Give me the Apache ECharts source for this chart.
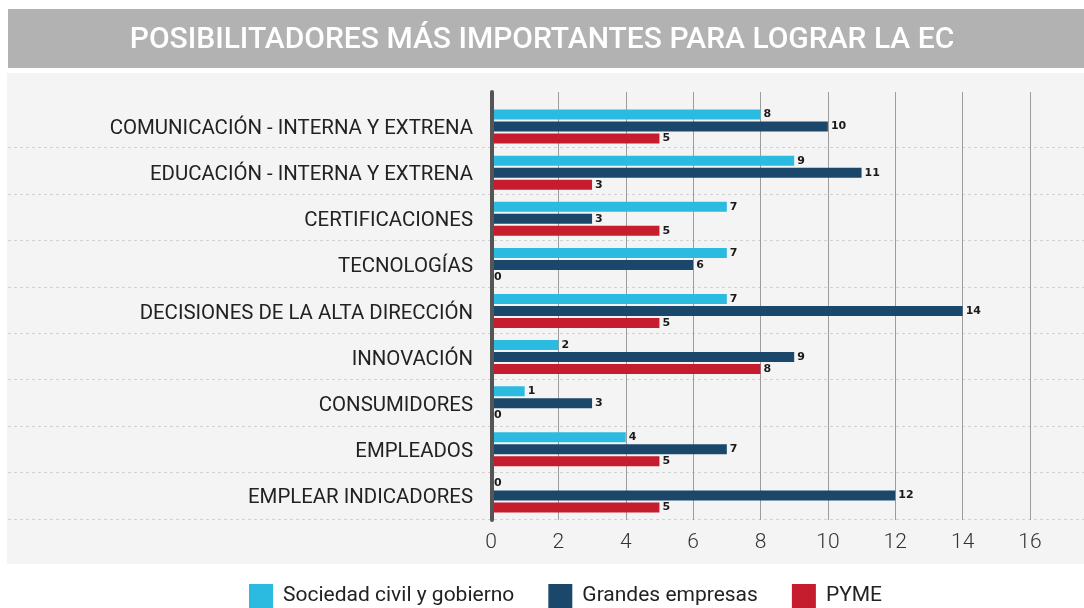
<!DOCTYPE html>
<html>
<head>
<meta charset="utf-8">
<script src="https://cdn.jsdelivr.net/npm/echarts@6/dist/echarts.min.js"></script>
<style>
html,body{margin:0;padding:0;background:#fff;}
#c{width:1084px;height:608px;}
</style>
</head>
<body>
<div id="c"></div>
<script>
const titleText = 'POSIBILITADORES MÁS IMPORTANTES PARA LOGRAR LA EC';
const categories = [
  'COMUNICACIÓN - INTERNA Y EXTRENA',
  'EDUCACIÓN - INTERNA Y EXTRENA',
  'CERTIFICACIONES',
  'TECNOLOGÍAS',
  'DECISIONES DE LA ALTA DIRECCIÓN',
  'INNOVACIÓN',
  'CONSUMIDORES',
  'EMPLEADOS',
  'EMPLEAR INDICADORES'
];
const seriesNames = ['Sociedad civil y gobierno', 'Grandes empresas', 'PYME'];
const sociedad = [8, 9, 7, 7, 7, 2, 1, 4, 0];
const grandes = [10, 11, 3, 6, 14, 9, 3, 7, 12];
const pyme = [5, 3, 5, 0, 5, 8, 0, 5, 5];
const xMin = 0, xMax = 16, xStep = 2;

const colors = ['#2cbbe0', '#1b486a', '#c51d2e'];
const chart = echarts.init(document.getElementById('c'), null, {renderer: 'canvas'});

function barSeries(name, data, color) {
  return {
    name: name, type: 'bar', data: data, xAxisIndex: 0, yAxisIndex: 0,
    barWidth: 10, barGap: '20%',
    itemStyle: {color: color},
    label: {show: true, position: 'right', distance: 3,
      fontFamily: 'DejaVu Sans', fontWeight: 'bold', fontSize: 11, color: '#1a1a1a'},
    z: 5
  };
}

chart.setOption({
  animation: false,
  graphic: [
    {type: 'rect', shape: {x: 8, y: 9, width: 1076, height: 59}, style: {fill: '#b2b2b2'}, z: -10},
    {type: 'rect', shape: {x: 7, y: 73, width: 1077, height: 491}, style: {fill: '#f4f4f4'}, z: -10}
  ],
  title: {
    text: titleText, left: 542, top: 25, textAlign: 'center', padding: 0,
    textStyle: {color: '#ffffff', fontFamily: 'Roboto', fontWeight: 500, fontSize: 30}
  },
  legend: {
    data: seriesNames, left: 249, top: 584, icon: 'rect', padding: 0,
    itemWidth: 24, itemHeight: 24, itemGap: 34,
    textStyle: {fontFamily: 'Roboto', fontSize: 21, color: '#222', padding: [2, 0, 0, 5]}
  },
  grid: [
    {left: 491, right: 54, top: 103.5, bottom: 89.5},
    {left: 491, right: 54, top: 92, bottom: 88},
    {left: 8, right: 0, top: 101, bottom: 89}
  ],
  xAxis: [
    {gridIndex: 0, type: 'value', min: xMin, max: xMax, interval: xStep, show: false},
    {gridIndex: 1, type: 'value', min: xMin, max: xMax, interval: xStep,
      axisLine: {show: false}, axisTick: {show: false},
      splitLine: {show: true, lineStyle: {color: '#9c9c9c', width: 1}},
      axisLabel: {fontFamily: 'Roboto', fontWeight: 300, fontSize: 21, color: '#333', margin: 12}},
    {gridIndex: 2, type: 'value', show: false}
  ],
  yAxis: [
    {gridIndex: 0, type: 'category', data: categories, inverse: true,
      axisLine: {show: false}, axisTick: {show: false}, splitLine: {show: false},
      axisLabel: {margin: 18, formatter: '{a|{value}}',
        rich: {a: {fontFamily: 'Roboto', fontSize: 20.4, color: '#222', padding: [5, 0, 0, 0]}}}},
    {gridIndex: 1, type: 'value', min: 0, max: 1, z: 10, offset: -1,
      axisLine: {show: true, lineStyle: {color: '#555', width: 4}},
      axisTick: {show: false}, axisLabel: {show: false}, splitLine: {show: false}},
    {gridIndex: 2, type: 'category', data: categories,
      axisLine: {show: false}, axisTick: {show: false}, axisLabel: {show: false},
      splitLine: {show: true, showMaxLine: false, lineStyle: {color: '#d2d2d2', type: [3, 3], width: 1}}}
  ],
  series: [
    barSeries(seriesNames[0], sociedad, colors[0]),
    barSeries(seriesNames[1], grandes, colors[1]),
    barSeries(seriesNames[2], pyme, colors[2])
  ]
});
</script>
</body>
</html>
